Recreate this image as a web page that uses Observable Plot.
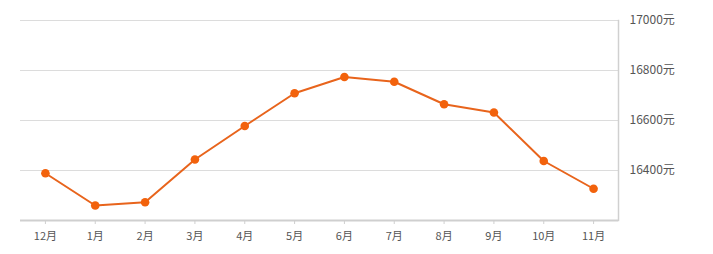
<!DOCTYPE html>
<html>
<head>
<meta charset="utf-8">
<script src="https://cdn.jsdelivr.net/npm/d3@7"></script>
<script src="https://cdn.jsdelivr.net/npm/@observablehq/plot@0.6"></script>
<style>
  html, body { margin: 0; padding: 0; background: #fff; }
  #chart svg { display: block; }
</style>
</head>
<body>
<div id="chart"></div>
<script>
const months = ["12月","1月","2月","3月","4月","5月","6月","7月","8月","9月","10月","11月"];
const prices = [16389, 16260, 16273, 16444, 16578, 16709, 16774, 16755, 16665, 16632, 16438, 16327];
const yTicks = [16400, 16600, 16800, 17000];
const yDomain = [16200, 17000];

const data = months.map((m, i) => ({month: m, price: prices[i]}));

const chart = Plot.plot({
  width: 713,
  height: 254,
  marginLeft: 20,
  marginRight: 95,
  marginTop: 20,
  marginBottom: 34,
  style: {fontFamily: "'Noto Sans CJK SC', 'Noto Sans', sans-serif", fontSize: "12px", color: "#555", background: "#fff"},
  x: {type: "point", domain: months, padding: 0.5, round: false, label: null},
  y: {domain: yDomain, label: null},
  marks: [
    Plot.ruleY(yTicks, {stroke: "#dcdcdc", strokeWidth: 1}),
    Plot.frame({anchor: "right", stroke: "#d0d0d0", strokeWidth: 1.5}),
    Plot.ruleY([yDomain[0]], {stroke: "#cfcfcf", strokeWidth: 2}),
    Plot.axisX({tickSize: 4, tickPadding: 8, stroke: "#cfcfcf", fontSize: 11, fill: "#555"}),
    Plot.axisY({anchor: "right", ticks: yTicks, tickSize: 0, tickPadding: 11, tickFormat: d => d + "元", fontSize: 12, fill: "#555"}),
    Plot.line(data, {x: "month", y: "price", stroke: "#e8641c", strokeWidth: 2}),
    Plot.dot(data, {x: "month", y: "price", r: 4.3, fill: "#f2620c", stroke: "none"})
  ]
});
document.getElementById("chart").appendChild(chart);
</script>
</body>
</html>
